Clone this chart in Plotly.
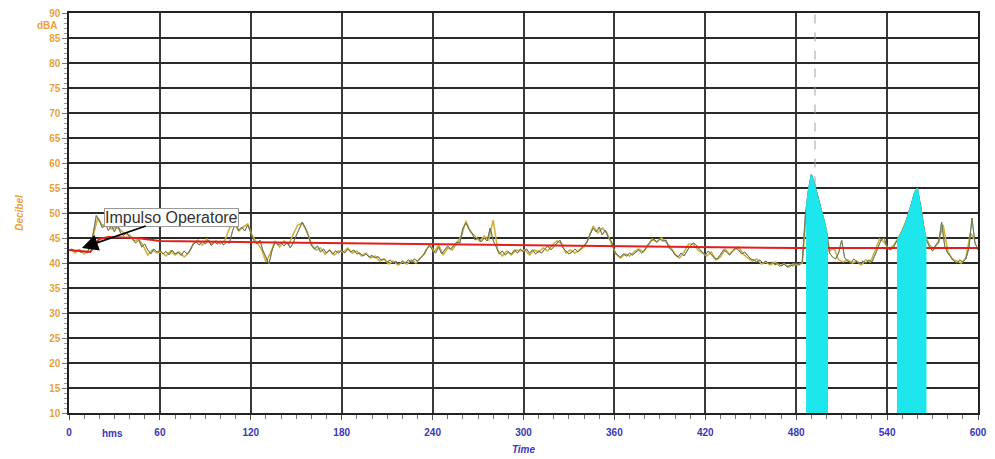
import numpy as np
import plotly.graph_objects as go

# ---------------- data ----------------
# fast level trace (dark), sampled every 2 s from 0 to 600 s
t_fast = list(range(0, 601, 2))
lev_fast = [
    42.5, 42.8, 42.3, 42.6, 42.1, 42.4, 42.0, 43.5, 46.0, 49.5,
    48.5, 47.0, 47.8, 46.5, 47.5, 46.2, 47.8, 46.0, 45.5, 46.2,
    45.2, 44.8, 44.0, 44.6, 43.2, 43.8, 42.6, 41.8, 42.8, 42.2,
    42.5, 41.8, 42.3, 41.6, 42.6, 41.8, 42.2, 41.5, 42.4, 41.8,
    42.6, 43.8, 44.2, 43.6, 44.4, 43.8, 44.6, 43.5, 44.2, 43.8,
    44.4, 43.6, 44.2, 44.0, 46.5, 48.0, 46.5, 47.2, 46.4, 47.6,
    46.0, 44.5, 43.8, 44.6, 42.5, 41.0, 39.8, 42.5, 44.2, 43.6,
    44.0, 43.4, 44.2, 43.0, 44.0, 45.5, 47.0, 48.2, 47.0, 45.5,
    43.5, 42.8, 43.4, 42.2, 42.8, 42.0, 42.6, 41.8, 42.4, 42.0,
    42.6, 42.0, 42.8, 42.2, 42.6, 41.8, 42.0, 41.4, 41.8, 41.2,
    41.5, 41.0, 41.3, 40.6, 40.8, 40.2, 40.6, 40.0, 40.3, 39.8,
    40.4, 40.0, 40.6, 40.2, 40.8, 40.4, 41.0, 41.6, 42.8, 43.4,
    42.6, 42.0, 43.2, 41.8, 42.6, 43.4, 42.8, 43.6, 44.2, 44.0,
    47.0, 48.0, 46.8, 46.0, 44.6, 45.0, 44.2, 45.0, 44.4, 47.0,
    44.5, 43.2, 41.8, 42.4, 41.6, 42.2, 41.8, 42.6, 42.0, 42.8,
    42.2, 42.8, 42.0, 42.6, 41.8, 42.4, 42.0, 42.8, 43.4, 42.6,
    43.2, 44.0, 44.6, 43.0, 42.4, 41.8, 42.2, 42.8, 42.2, 42.8,
    43.4, 44.2, 45.8, 47.0, 46.2, 47.2, 45.6, 46.6, 45.0, 44.4,
    42.4, 41.6, 41.2, 41.8, 41.4, 42.0, 41.6, 42.2, 42.6, 42.0,
    42.6, 43.6, 44.4, 44.8, 44.2, 44.8, 44.4, 44.6, 43.0, 42.6,
    41.6, 41.2, 42.0, 41.4, 42.4, 43.4, 44.0, 43.6, 42.8, 42.2,
    41.6, 42.4, 41.8, 41.0, 40.8, 41.6, 42.6, 42.2, 41.6, 42.4,
    43.0, 42.6, 41.8, 42.2, 41.4, 40.8, 40.6, 40.2, 40.6, 40.0,
    40.4, 39.8, 40.2, 39.6, 40.0, 39.4, 39.8, 39.2, 39.6, 39.4,
    40.0, 39.6, 40.2, 49.5, 54.5, 57.8, 56.0, 53.5, 51.5, 49.0,
    46.5, 42.0, 41.2, 40.8, 42.0, 44.6, 41.0, 40.4, 40.0, 40.8,
    40.2, 39.8, 40.4, 40.0, 40.6, 40.2, 41.6, 43.2, 44.6, 45.0,
    43.2, 42.6, 43.0, 44.2, 45.2, 46.4, 47.8, 49.6, 51.8, 54.0,
    55.0, 51.5, 47.5, 44.6, 43.2, 42.4, 43.6, 44.0, 48.2, 43.4,
    42.0, 41.2, 40.4, 40.0, 40.6, 40.2, 40.8, 43.0, 49.0, 44.0,
    42.6,
]

# second level trace (yellow), sampled every 3 s from 1 to 598 s
t_slow = list(range(1, 599, 3))
lev_slow = [
    42.8, 42.0, 42.7, 41.8, 42.6, 45.5, 49.0, 47.5, 48.0, 46.8,
    47.2, 46.6, 45.8, 45.6, 44.4, 44.8, 43.4, 41.6, 42.6, 42.0,
    42.2, 41.4, 42.4, 41.6, 42.2, 41.2, 42.0, 43.8, 44.6, 43.6,
    44.8, 43.8, 44.4, 43.8, 44.6, 47.0, 47.8, 46.4, 47.2, 47.8,
    45.4, 44.0, 42.8, 40.2, 42.0, 44.4, 43.2, 44.4, 43.6, 45.8,
    47.6, 48.0, 46.4, 43.8, 42.6, 43.0, 41.8, 42.6, 41.6, 42.4,
    42.2, 43.0, 42.0, 42.4, 41.4, 42.0, 41.0, 41.4, 40.4, 40.8,
    39.8, 40.4, 39.6, 40.2, 39.8, 40.6, 40.0, 41.0, 42.0, 43.8,
    42.2, 43.6, 41.6, 43.0, 42.6, 44.0, 45.4, 48.4, 46.2, 45.4,
    44.4, 45.4, 44.6, 48.6, 42.6, 41.4, 42.4, 41.6, 42.6, 42.4,
    42.6, 41.6, 42.6, 42.2, 43.0, 42.4, 43.6, 44.4, 44.0, 42.0,
    42.6, 42.0, 42.6, 43.2, 45.0, 47.4, 46.0, 47.0, 46.0, 44.0,
    41.8, 41.0, 41.8, 41.4, 42.2, 42.8, 42.2, 43.4, 44.8, 44.2,
    45.0, 44.2, 43.2, 41.8, 41.0, 42.2, 43.8, 43.8, 42.6, 42.0,
    41.4, 42.2, 40.6, 41.2, 42.8, 41.8, 42.6, 43.2, 41.8, 41.0,
    40.4, 40.8, 39.8, 40.2, 39.6, 40.2, 39.4, 39.8, 39.2, 39.8,
    39.6, 40.0, 51.0, 57.0, 54.6, 51.2, 47.8, 42.4, 43.0, 40.6,
    40.2, 40.6, 40.0, 40.4, 39.6, 40.6, 40.2, 42.4, 44.8, 44.2,
    42.8, 43.4, 44.8, 46.6, 48.8, 51.6, 54.6, 51.8, 45.6, 43.6,
    42.8, 44.4, 47.6, 42.4, 40.8, 40.4, 40.0, 41.0, 46.0, 44.6,
]

# running Leq (red)
t_leq = [0, 8, 14, 20, 26, 45, 60, 113, 232, 350, 480, 600]
leq = [42.6, 42.3, 42.2, 44.8, 45.2, 45.0, 44.4, 44.2, 43.8, 43.4, 43.0, 43.0]

# marked events (cyan), start / end in seconds
event_start = [486.5, 546.5]
event_end = [501.0, 566.0]

marker_time = 492.4          # dashed cursor
note_time, note_level = 8.5, 43.0   # "Impulso Operatore" marker

x_ticks = [0, 60, 120, 180, 240, 300, 360, 420, 480, 540, 600]
y_ticks = list(range(10, 91, 5))

# ---------------- figure ----------------
ORANGE = "#E9A23B"
BLUE = "#3A36B8"
FONT = "Liberation Sans, Arial, sans-serif"

fig = go.Figure()

fig.add_trace(go.Scatter(x=t_slow, y=lev_slow, mode="lines",
                         line=dict(color="#D2B23C", width=1.6), hoverinfo="skip"))
fig.add_trace(go.Scatter(x=t_fast, y=lev_fast, mode="lines",
                         line=dict(color="#55566A", width=1.0), hoverinfo="skip"))
fig.add_trace(go.Scatter(x=t_fast, y=lev_fast, mode="lines",
                         line=dict(color="#7C9440", width=0.6), hoverinfo="skip"))
fig.add_trace(go.Scatter(x=t_leq, y=leq, mode="lines",
                         line=dict(color="#E0201E", width=2), hoverinfo="skip"))

tf = np.array(t_fast, dtype=float)
lf = np.array(lev_fast, dtype=float)
for s, e in zip(event_start, event_end):
    inside = (tf > s) & (tf < e)
    xs = np.concatenate([[s], tf[inside], [e]])
    ys = np.interp(xs, tf, lf)
    fig.add_trace(go.Scatter(x=xs, y=ys, mode="lines", fill="tozeroy",
                             fillcolor="#1DE6EC", line=dict(color="#1DE6EC", width=1),
                             hoverinfo="skip"))

peak = float(np.interp(marker_time, tf, lf))
fig.add_shape(type="line", x0=marker_time, x1=marker_time, y0=peak, y1=90,
              line=dict(color="#A0A0A0", width=1, dash="dash"))

fig.add_annotation(x=note_time, y=note_level, text="Impulso Operatore",
                   showarrow=True, arrowhead=2, arrowsize=1.8, arrowwidth=1.8,
                   arrowcolor="black", ax=90, ay=-31, standoff=0,
                   font=dict(family=FONT, size=16, color="#333333"),
                   bgcolor="white", bordercolor="#999999", borderwidth=1, borderpad=0)

fig.add_annotation(x=0, y=87.6, xref="x", yref="y", text="<b>dBA</b>", showarrow=False,
                   xanchor="right", xshift=-9, font=dict(family=FONT, size=10, color=ORANGE))
fig.add_annotation(x=29, y=0, xref="x", yref="paper", text="<b>hms</b>", showarrow=False,
                   yanchor="middle", yshift=-20, font=dict(family=FONT, size=10, color=BLUE))

fig.update_layout(
    width=995, height=459,
    margin=dict(l=61, r=25, t=5, b=54, autoexpand=False),
    paper_bgcolor="white", plot_bgcolor="white",
    showlegend=False,
    font=dict(family=FONT),
)
fig.update_xaxes(
    range=[0, 600], tickvals=x_ticks, ticktext=[f"<b>{v}</b>" for v in x_ticks],
    tickfont=dict(family=FONT, size=10, color=BLUE), automargin=False,
    ticklabeloverflow="allow", ticklabelstandoff=4,
    showgrid=True, gridcolor="#3A3A3A", gridwidth=1.6,
    showline=True, linecolor="#222222", linewidth=1.5, mirror=True,
    ticks="outside", ticklen=5, tickcolor="#555555",
    minor=dict(dtick=10, ticks="outside", ticklen=4, tickcolor="#777777", showgrid=False),
    title=dict(text="<i><b>Time</b></i>", font=dict(family=FONT, size=10, color=BLUE), standoff=9),
    zeroline=False,
)
fig.update_yaxes(
    range=[10, 90], tickvals=y_ticks, ticktext=[f"<b>{v}</b>" for v in y_ticks],
    tickfont=dict(family=FONT, size=10, color=ORANGE), automargin=False,
    ticklabeloverflow="allow",
    showgrid=True, gridcolor="#2A2A2A", gridwidth=1.6,
    showline=True, linecolor="#222222", linewidth=1.5, mirror=True,
    ticks="outside", ticklen=5, tickcolor="#777777",
    minor=dict(dtick=1, ticks="outside", ticklen=3, tickcolor="#999999", showgrid=False),
    title=dict(text="<i><b>Decibel</b></i>", font=dict(family=FONT, size=10, color=ORANGE), standoff=24),
    zeroline=False,
)

fig.write_html("out.html")
